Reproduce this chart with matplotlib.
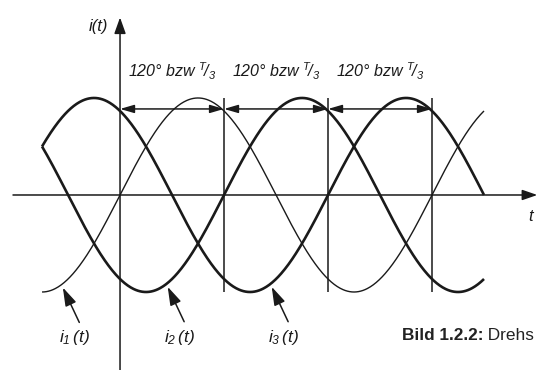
import numpy as np
import matplotlib
matplotlib.use("Agg")
import matplotlib.pyplot as plt

plt.rcParams['font.family'] = ['Liberation Sans', 'DejaVu Sans']
plt.rcParams['mathtext.fontset'] = 'custom'
plt.rcParams['mathtext.rm'] = 'Liberation Sans:italic'
plt.rcParams['mathtext.it'] = 'Liberation Sans:italic'
plt.rcParams['mathtext.bf'] = 'Liberation Sans:bold'

# three phase currents, phase shift in degrees
phases = [0, 120, 240]
labels = [r"$i_1\,(t)$", r"$i_2\,(t)$", r"$i_3\,(t)$"]
t_start, t_end = -90, 420
# 120 degree segments marked above the curves
segments = [(0, 120), (120, 240), (240, 360)]
seg_text = r"120° bzw $^{T}\!/_{3}$"
caption_bold = "Bild 1.2.2:"
caption_rest = " Drehs"

ink = "#1a1a1a"
widths = [1.0, 1.9, 1.9]

fig = plt.figure(figsize=(5.38, 3.70), dpi=100)
ax = fig.add_axes([0, 0, 1, 1])
ax.set_xlim(-138.5, 482.3)
ax.set_ylim(-1.804, 2.01)
ax.axis("off")

t = np.linspace(t_start, t_end, 600)
for ph, lw in zip(phases, widths):
    ax.plot(t, np.sin(np.radians(t - ph)), color=ink, lw=lw, solid_capstyle="butt")

# axes with arrows
ax.annotate("", xy=(481.5, 0), xytext=(-123.5, 0),
            arrowprops=dict(arrowstyle="-|>,head_length=1.3,head_width=0.45",
                            mutation_scale=7, lw=1.1, color=ink, shrinkA=0, shrinkB=0))
ax.annotate("", xy=(0, 1.83), xytext=(0, -1.81),
            arrowprops=dict(arrowstyle="-|>,head_length=1.4,head_width=0.5",
                            mutation_scale=7, lw=1.1, color=ink, shrinkA=0, shrinkB=0))
ax.text(-25, 1.69, "i(t)", style="italic", fontsize=12, color=ink, ha="center", va="baseline")
ax.text(474, -0.22, "t", style="italic", fontsize=12, color=ink, ha="center", va="center")

# vertical markers and 120 degree dimension arrows
ax.vlines([s[1] for s in segments], -1, 1, color=ink, lw=1.1)
for a, b in segments:
    ax.annotate("", xy=(b, 0.887), xytext=(a, 0.887),
                arrowprops=dict(arrowstyle="<|-|>,head_length=1.2,head_width=0.35",
                                mutation_scale=7, lw=1.1, color=ink, shrinkA=0, shrinkB=0))
    ax.text(a + 9, 1.216, seg_text, style="italic", fontsize=11.5, color=ink,
            ha="left", va="baseline")

# labels with pointer arrows
for ph, lab in zip(phases, labels):
    tip_t = ph - 66 if ph == 0 else ph - 65
    tip_y = np.sin(np.radians(tip_t - ph)) - 0.04
    ax.annotate("", xy=(tip_t, tip_y), xytext=(tip_t + 19, tip_y - 0.36),
                arrowprops=dict(arrowstyle="-|>,head_length=1.6,head_width=0.5",
                                mutation_scale=7, lw=1.1, color=ink, shrinkA=0, shrinkB=0))
    ax.text(tip_t + 13, -1.474, lab, fontsize=12.5, color=ink, ha="center", va="center")

cap = ax.text(325, -1.495, caption_bold, fontsize=12.4, weight="bold", color="#222222",
              ha="left", va="baseline")
ax.annotate(caption_rest, xy=(1, 0), xycoords=cap, fontsize=12.4, color="#222222",
            ha="left", va="bottom")

fig.savefig("out.png", dpi=100)
